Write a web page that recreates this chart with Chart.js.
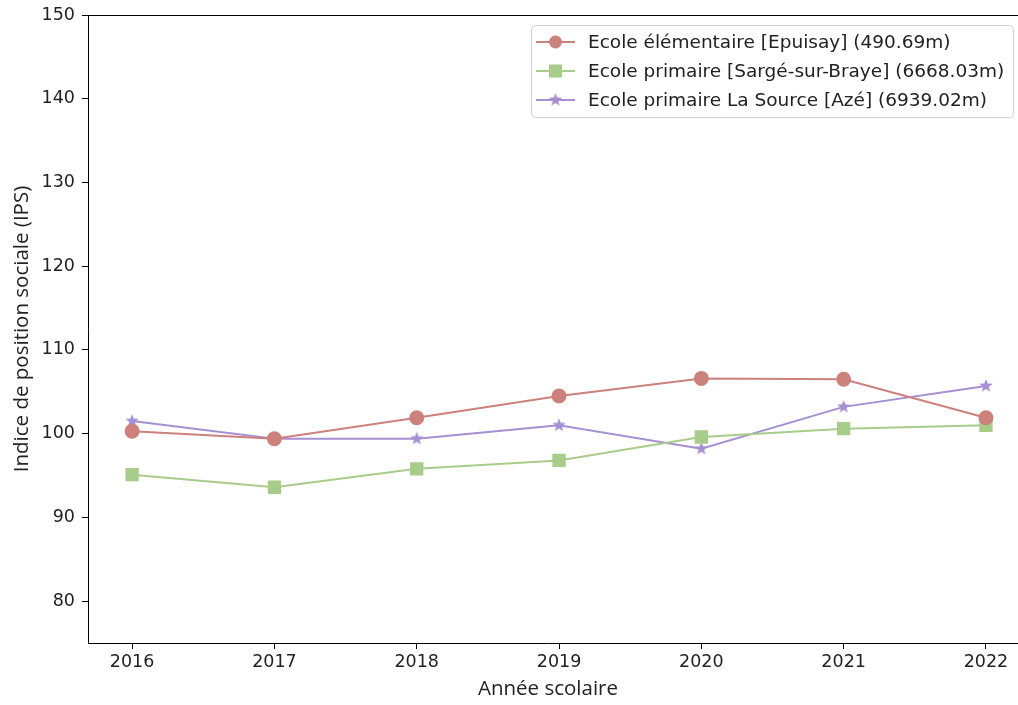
<!DOCTYPE html>
<html>
<head>
<meta charset="utf-8">
<script src="https://cdn.jsdelivr.net/npm/chart.js@4.4.1/dist/chart.umd.min.js"></script>
<style>
  html, body { margin: 0; padding: 0; background: #fff; overflow: hidden; }
  canvas { display: block; }
</style>
</head>
<body>
<canvas id="ips" width="1018" height="705"></canvas>
<script>
// values
const years = [2016, 2017, 2018, 2019, 2020, 2021, 2022];
const epuisay = [100.3, 99.4, 101.9, 104.5, 106.6, 106.5, 101.9];
const sarge = [95.1, 93.6, 95.8, 96.8, 99.6, 100.6, 101.0];
const aze = [101.5, 99.4, 99.4, 101.0, 98.2, 103.2, 105.7];
const yTicks = [80, 90, 100, 110, 120, 130, 140, 150];
const labels = [
  "Ecole élémentaire [Epuisay] (490.69m)",
  "Ecole primaire [Sargé-sur-Braye] (6668.03m)",
  "Ecole primaire La Source [Azé] (6939.02m)"
];

const red = "#cc817c", green = "#a8cc8a", purple = "#a68fd3";

function starImg(color, r){
  const c = document.createElement("canvas");
  c.width = c.height = r*2 + 2;
  const g = c.getContext("2d");
  g.fillStyle = color;
  g.beginPath();
  for (let k = 0; k < 10; k++) {
    const rr = k % 2 ? r*0.42 : r;
    const a = -Math.PI/2 + k*Math.PI/5;
    g.lineTo(r+1 + rr*Math.cos(a), r+1 + rr*Math.sin(a));
  }
  g.closePath();
  g.fill();
  return c;
}
const star = starImg(purple, 7);

function pts(vals){ return years.map((y, i) => ({x: y, y: vals[i]})); }

// top spine (runs to the picture's edge, the right spine is cut off) + legend
const frame = {
  id: "frame",
  afterDraw(chart){
    const {ctx, chartArea: a} = chart;
    ctx.save();
    ctx.strokeStyle = "#000";
    ctx.lineWidth = 1;
    ctx.beginPath();
    ctx.moveTo(a.left, a.top + 0.5);
    ctx.lineTo(chart.width, a.top + 0.5);
    ctx.moveTo(a.right, a.bottom + 0.5);
    ctx.lineTo(chart.width, a.bottom + 0.5);
    ctx.stroke();

    const bx = 531, by = 25, bw = 482, bh = 92;
    ctx.fillStyle = "rgba(255,255,255,0.85)";
    ctx.strokeStyle = "#d0d0d0";
    ctx.beginPath();
    ctx.roundRect(bx + 0.5, by + 0.5, bw, bh, 4);
    ctx.fill();
    ctx.stroke();
    ctx.font = "18.5px 'DejaVu Sans'";
    ctx.textBaseline = "middle";
    chart.data.datasets.forEach((ds, i) => {
      const y = by + 17 + i*29;
      ctx.strokeStyle = ds.borderColor;
      ctx.lineWidth = 2;
      ctx.beginPath();
      ctx.moveTo(536, y); ctx.lineTo(575, y);
      ctx.stroke();
      ctx.fillStyle = ds.pointBackgroundColor;
      if (ds.pointStyle === "circle") {
        ctx.beginPath(); ctx.arc(555.5, y, 6.5, 0, Math.PI*2); ctx.fill();
      } else if (ds.pointStyle === "rect") {
        ctx.fillRect(549, y - 6.5, 13, 13);
      } else {
        ctx.drawImage(ds.pointStyle, 555.5 - ds.pointStyle.width/2, y - ds.pointStyle.height/2);
      }
      ctx.fillStyle = "#222";
      ctx.fillText(ds.label, 588, y + 1);
    });
    ctx.restore();
  }
};

new Chart("ips", {
  type: "line",
  data: {
    datasets: [
      {label: labels[0], data: pts(epuisay), borderColor: red, backgroundColor: red,
       pointBackgroundColor: red, pointBorderColor: red, pointStyle: "circle", pointRadius: 6.5, borderWidth: 2},
      {label: labels[1], data: pts(sarge), borderColor: green, backgroundColor: green,
       pointBackgroundColor: green, pointBorderColor: green, pointStyle: "rect", pointRadius: 8, borderWidth: 2},
      {label: labels[2], data: pts(aze), borderColor: purple, backgroundColor: purple,
       pointBackgroundColor: purple, pointBorderColor: purple, pointStyle: star, pointRadius: 7, borderWidth: 2}
    ]
  },
  options: {
    responsive: false,
    animation: false,
    layout: { padding: { top: 15, right: 0, left: 0, bottom: 0 } },
    plugins: { legend: { display: false }, tooltip: { enabled: false } },
    scales: {
      x: {
        type: "linear",
        min: 2015.69, max: 2022.155,
        afterBuildTicks: axis => { axis.ticks = years.map(v => ({value: v})); },
        afterFit: axis => { axis.height = 62; },
        ticks: { color: "#222", font: { family: "DejaVu Sans", size: 17.5 }, padding: 3,
                 callback: v => String(v) },
        grid: { drawOnChartArea: false, tickLength: 6, color: "#000" },
        border: { color: "#000" },
        title: { display: true, text: "Année scolaire", color: "#222",
                 font: { family: "Open Sans", size: 20.5 }, padding: { top: 0 } }
      },
      y: {
        min: 75, max: 150,
        afterBuildTicks: axis => { axis.ticks = yTicks.map(v => ({value: v})); },
        afterFit: axis => { axis.width = 88; axis.paddingTop = 0; axis.paddingBottom = 0; },
        ticks: { color: "#222", font: { family: "DejaVu Sans", size: 17.5 }, padding: 7 },
        grid: { drawOnChartArea: false, tickLength: 6, color: "#000" },
        border: { color: "#000" },
        title: { display: true, text: "Indice de position sociale (IPS)", color: "#222",
                 font: { family: "Open Sans", size: 20.5 }, padding: { top: 10, bottom: 0 } }
      }
    }
  },
  plugins: [frame]
});
</script>
</body>
</html>
